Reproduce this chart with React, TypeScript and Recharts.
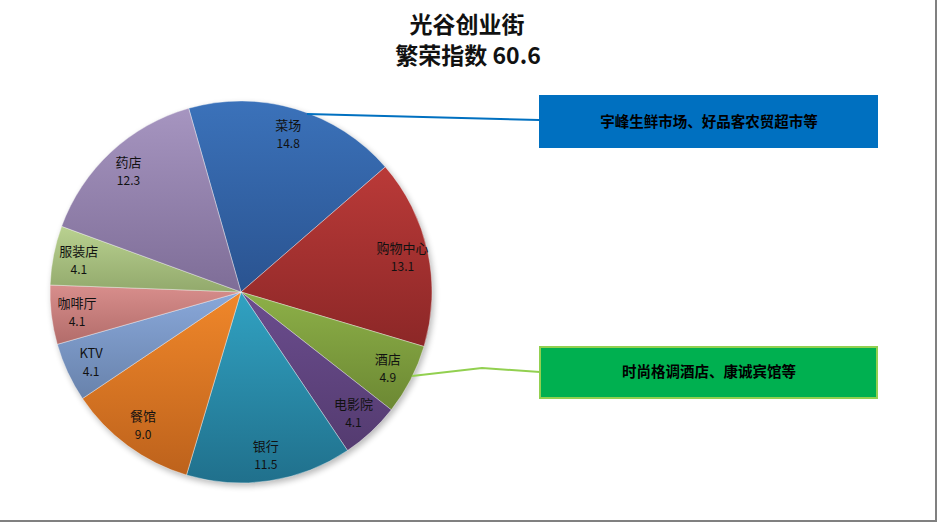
import React from 'react';
import { PieChart, Pie, Cell } from 'recharts';

const categories = ['菜场', '购物中心', '酒店', '电影院', '银行', '餐馆', 'KTV', '咖啡厅', '服装店', '药店'];
const values = [14.8, 13.1, 4.9, 4.1, 11.5, 9.0, 4.1, 4.1, 4.1, 12.3];
const topColors = ['#3B72BA', '#BA3A38', '#8DB048', '#6B4D8E', '#31A2C2', '#F0872A', '#89A8DA', '#D88E8C', '#B9D190', '#A695C0'];
const bottomColors = ['#2A5390', '#8C2727', '#6C8833', '#543B70', '#20708C', '#BD621C', '#6882AB', '#B26C6A', '#92A96C', '#7E6D97'];
const titleLines = ['光谷创业街', '繁荣指数 60.6'];
const calloutTexts = ['宇峰生鲜市场、好品客农贸超市等', '时尚格调酒店、康诚宾馆等'];

const data = categories.map((name, i) => ({ name, value: values[i] }));

const FONT = '"Noto Sans CJK SC", "Noto Sans", sans-serif';
const RAD = Math.PI / 180;

const renderLabel = (props: any) => {
  const { cx, cy, midAngle, outerRadius, index } = props;
  const r = outerRadius * 0.865;
  const x = cx + r * Math.cos(-midAngle * RAD);
  const y = cy + r * Math.sin(-midAngle * RAD);
  return (
    <g key={`lbl-${index}`}>
      <text x={x} y={y - 4} textAnchor="middle" fontSize={13} fill="#111" fontFamily={FONT}>
        {categories[index]}
      </text>
      <text x={x} y={y + 14} textAnchor="middle" fontSize={12} fill="#111" fontFamily={FONT}>
        {values[index].toFixed(1)}
      </text>
    </g>
  );
};

export default function App() {
  return (
    <div
      style={{
        position: 'absolute',
        left: 0,
        top: 0,
        width: 937,
        height: 522,
        background: '#fff',
        borderRight: '2px solid #808080',
        borderBottom: '2px solid #808080',
        boxSizing: 'border-box',
        overflow: 'hidden',
      }}
    >
      <svg width={937} height={522} style={{ position: 'absolute', left: 0, top: 0 }}>
        <defs>
          <filter id="pieShadow" x="-20%" y="-20%" width="140%" height="140%">
            <feGaussianBlur stdDeviation="3" />
          </filter>
        </defs>
        <circle cx={243} cy={295} r={191} fill="#000" opacity={0.28} filter="url(#pieShadow)" />
      </svg>
      <div style={{ position: 'absolute', left: 0, top: 0 }}>
        <PieChart width={937} height={522} margin={{ top: 0, right: 0, bottom: 0, left: 0 }}>
          <defs>
            {categories.map((c, i) => (
              <linearGradient key={c} id={`grad${i}`} x1="0" y1="0" x2="0" y2="1">
                <stop offset="0%" stopColor={topColors[i]} />
                <stop offset="100%" stopColor={bottomColors[i]} />
              </linearGradient>
            ))}
          </defs>
          <Pie
            data={data}
            dataKey="value"
            nameKey="name"
            cx={241}
            cy={292}
            outerRadius={191}
            startAngle={105.9}
            endAngle={-254.1}
            label={renderLabel}
            labelLine={false}
            isAnimationActive={false}
            stroke="rgba(255,255,255,0.5)"
            strokeWidth={0.75}
          >
            {data.map((d, i) => (
              <Cell key={d.name} fill={`url(#grad${i})`} />
            ))}
          </Pie>
        </PieChart>
      </div>
      <svg width={937} height={522} style={{ position: 'absolute', left: 0, top: 0, pointerEvents: 'none' }}>
        <text x={467} y={33} textAnchor="middle" fontSize={23} fontWeight={700} fill="#111" fontFamily={FONT}>
          {titleLines[0]}
        </text>
        <text x={468} y={64} textAnchor="middle" fontSize={23} fontWeight={700} fill="#111" fontFamily={FONT}>
          {titleLines[1]}
        </text>

        <polyline points="307,114 539,120" fill="none" stroke="#0070C0" strokeWidth={2} />
        <rect x={539} y={95} width={339} height={53} fill="#0070C0" />
        <text x={709} y={127} textAnchor="middle" fontSize={14.5} fontWeight={700} fill="#000" fontFamily={FONT}>
          {calloutTexts[0]}
        </text>

        <polyline points="412,376 482,368 540,372" fill="none" stroke="#92D050" strokeWidth={2} />
        <rect x={540} y={347} width={337} height={51} fill="#00B050" stroke="#92D050" strokeWidth={2} />
        <text x={709} y={377} textAnchor="middle" fontSize={14.5} fontWeight={700} fill="#000" fontFamily={FONT}>
          {calloutTexts[1]}
        </text>
      </svg>
    </div>
  );
}
